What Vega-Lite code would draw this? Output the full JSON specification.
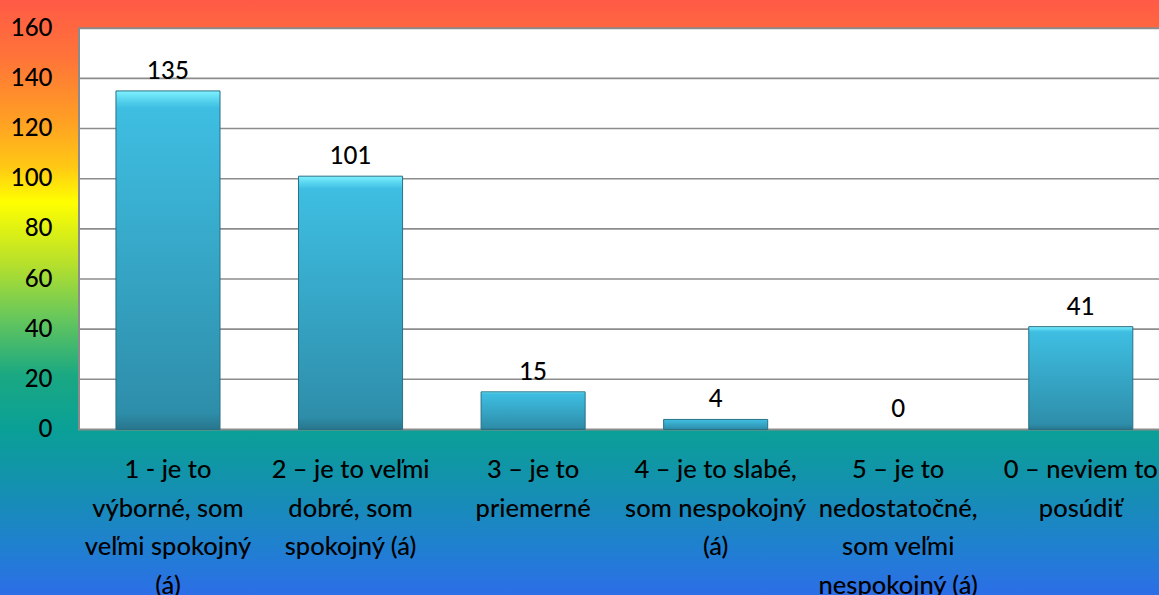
{
  "$schema": "https://vega.github.io/schema/vega-lite/v6.json",
  "width": 1159,
  "height": 595,
  "padding": 0,
  "autosize": {"type": "none"},
  "background": "#2c6ee8",
  "view": {
    "stroke": null,
    "fill": {
      "gradient": "linear", "x1": 0, "y1": 0, "x2": 0, "y2": 1,
      "stops": [
        {"offset": 0.0, "color": "#ff5a46"},
        {"offset": 0.10, "color": "#ff7538"},
        {"offset": 0.20, "color": "#ff9e24"},
        {"offset": 0.28, "color": "#ffc814"},
        {"offset": 0.34, "color": "#ffff00"},
        {"offset": 0.44, "color": "#b9e12a"},
        {"offset": 0.53, "color": "#6ac85a"},
        {"offset": 0.63, "color": "#1aa882"},
        {"offset": 0.72, "color": "#0aa096"},
        {"offset": 0.82, "color": "#1490b0"},
        {"offset": 0.92, "color": "#2080d0"},
        {"offset": 1.0, "color": "#2c6ee8"}
      ]
    }
  },
  "datasets": {
    "answers": [
      {"cat": "1 - je to|výborné, som|veľmi spokojný|(á)", "n": 135},
      {"cat": "2 – je to veľmi|dobré, som|spokojný (á)", "n": 101},
      {"cat": "3 – je to|priemerné", "n": 15},
      {"cat": "4 – je to slabé,|som nespokojný|(á)", "n": 4},
      {"cat": "5 – je to|nedostatočné,|som veľmi|nespokojný (á)", "n": 0},
      {"cat": "0 – neviem to|posúdiť", "n": 41}
    ],
    "grid": [{"g": 20}, {"g": 40}, {"g": 60}, {"g": 80}, {"g": 100}, {"g": 120}, {"g": 140}],
    "frame": [{"top": 160, "bottom": 0}]
  },
  "layer": [
    {
      "data": {"name": "frame"},
      "mark": {"type": "rect", "fill": "white", "stroke": "#8c8c8c", "strokeWidth": 2, "clip": false},
      "encoding": {
        "x": {"datum": "1 - je to|výborné, som|veľmi spokojný|(á)", "type": "nominal", "bandPosition": -0.3552, "title": null},
        "x2": {"datum": "0 – neviem to|posúdiť", "bandPosition": 1.5},
        "y": {"field": "bottom", "type": "quantitative", "title": null},
        "y2": {"field": "top"}
      }
    },
    {
      "data": {"name": "grid"},
      "mark": {"type": "rule", "stroke": "#8c8c8c", "strokeWidth": 1.6},
      "encoding": {
        "x": {"datum": "1 - je to|výborné, som|veľmi spokojný|(á)", "type": "nominal", "bandPosition": -0.3552, "title": null},
        "x2": {"datum": "0 – neviem to|posúdiť", "bandPosition": 1.5},
        "y": {"field": "g", "type": "quantitative", "title": null}
      }
    },
    {
      "data": {"name": "answers"},
      "transform": [{"filter": "datum.n > 0"}],
      "mark": {
        "type": "bar",
        "stroke": "#2a7085",
        "strokeWidth": 1,
        "fill": {
          "gradient": "linear", "x1": 0, "y1": 0, "x2": 0, "y2": 1,
          "stops": [
            {"offset": 0.0, "color": "#80f2ff"},
            {"offset": 0.025, "color": "#5ad6f0"},
            {"offset": 0.05, "color": "#3ebee2"},
            {"offset": 0.95, "color": "#2e8eaa"},
            {"offset": 1.0, "color": "#28768c"}
          ]
        }
      },
      "encoding": {
        "x": {
          "field": "cat", "type": "nominal", "sort": null, "title": null,
          "scale": {
            "domain": [
              "1 - je to|výborné, som|veľmi spokojný|(á)",
              "2 – je to veľmi|dobré, som|spokojný (á)",
              "3 – je to|priemerné",
              "4 – je to slabé,|som nespokojný|(á)",
              "5 – je to|nedostatočné,|som veľmi|nespokojný (á)",
              "0 – neviem to|posúdiť"
            ],
            "paddingInner": 0.43, "paddingOuter": 0.3893, "align": 0.8158
          },
          "axis": {
            "orient": "bottom", "offset": -165.5, "domain": false, "ticks": false, "tickSize": 0,
            "labelAngle": 0, "labelAlign": "center", "labelBaseline": "alphabetic",
            "labelPadding": 48, "labelLineHeight": 38.5,
            "labelExpr": "split(datum.label, '|')",
            "labelFont": "Lato", "labelFontSize": 25.5, "labelFontWeight": 500, "labelColor": "#000000",
            "labelLimit": 0, "labelOverlap": false, "labelFlush": false
          }
        },
        "y": {
          "field": "n", "type": "quantitative", "title": null,
          "scale": {"domain": [-66.0, 171.25], "nice": false, "zero": false},
          "axis": {
            "orient": "left", "offset": -79, "domain": false, "ticks": false, "tickSize": 0, "grid": false,
            "values": [0, 20, 40, 60, 80, 100, 120, 140, 160],
            "labelPadding": 27, "labelBaseline": "middle",
            "labelFont": "Lato", "labelFontSize": 24, "labelFontWeight": 500, "labelColor": "#000000"
          }
        },
        "y2": {"datum": 0}
      }
    },
    {
      "data": {"name": "answers"},
      "mark": {"type": "text", "font": "Lato", "fontSize": 24, "fontWeight": 500, "color": "#000000", "baseline": "alphabetic", "dy": -12},
      "encoding": {
        "x": {"field": "cat", "type": "nominal", "sort": null, "title": null},
        "y": {"field": "n", "type": "quantitative", "title": null},
        "text": {"field": "n", "type": "quantitative"}
      }
    }
  ]
}
